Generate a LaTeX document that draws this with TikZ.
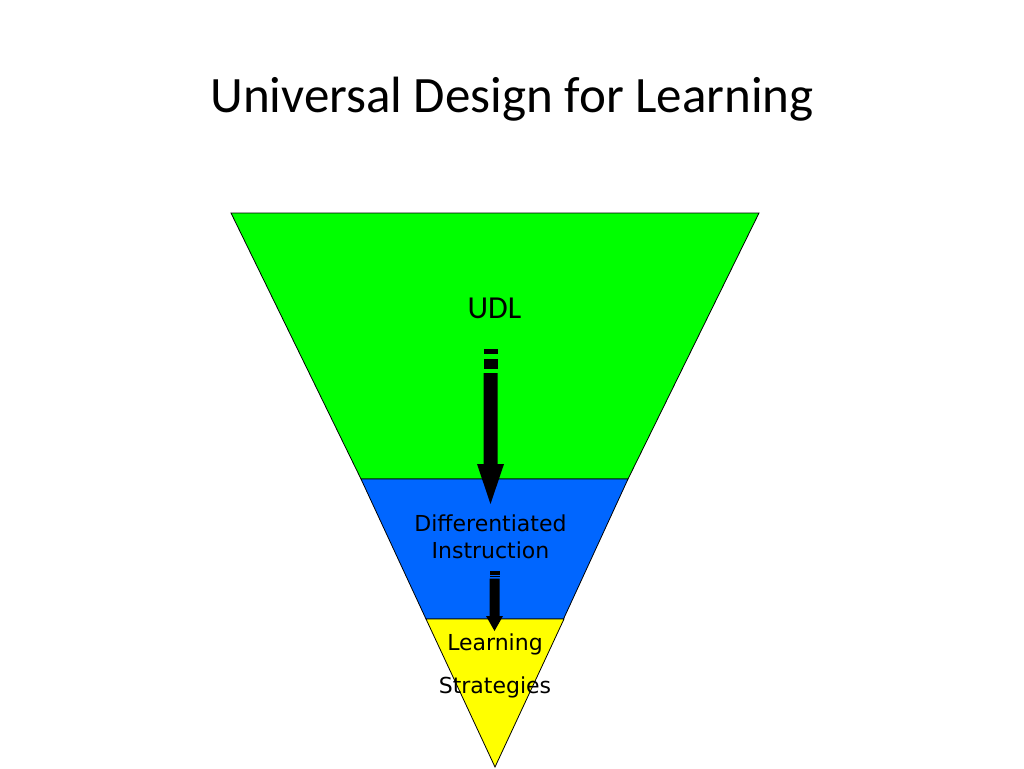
\documentclass[tikz,border=0pt]{standalone}
\usepackage{fontspec}
\setmainfont{Carlito}
\newfontfamily\verd{DejaVu Sans}
\definecolor{udlgreen}{RGB}{0,255,0}
\definecolor{diblue}{RGB}{0,102,255}
\definecolor{lsyellow}{RGB}{255,255,0}
\tikzset{
  band/.style={draw=black, line width=0.8pt, line join=miter},
  blockarrow/.style={fill=black, draw=none},
  lbl/.style={anchor=base, inner sep=0pt, text=black},
}
\begin{document}
\begin{tikzpicture}[x=1pt,y=-1pt]
\useasboundingbox[fill=white] (0,0) rectangle (1024,768);
% title
\node[lbl, font={\fontsize{51}{56}\selectfont}] (title) at (512,112) {Universal Design for Learning};
% funnel bands
\filldraw[band, fill=udlgreen] (231,213) -- (759,213) -- (628,479) -- (361,479) -- cycle;
\filldraw[band, fill=diblue] (361,479) -- (628,479) -- (563.5,619) -- (426,619) -- cycle;
\filldraw[band, fill=lsyellow] (426,619) -- (564,619) -- (495,767) -- cycle;
% labels
\node[lbl, font={\fontsize{32}{36}\selectfont}] (udl) at (494.5,318) {UDL};
\node[lbl, font={\verd\fontsize{22}{26}\selectfont}] (di1) at (490.5,531) {Differentiated};
\node[lbl, font={\verd\fontsize{22}{26}\selectfont}] (di2) at (490.5,558) {Instruction};
\node[lbl, font={\verd\fontsize{22}{26}\selectfont}] (ls1) at (495,650) {Learning};
\node[lbl, font={\verd\fontsize{22}{26}\selectfont}] (ls2) at (495,693) {Strategies};
% striped arrow 1
\fill[blockarrow] (483.5,349) rectangle (497.5,354);
\fill[blockarrow] (483.5,359) rectangle (497.5,369);
\fill[blockarrow] (483.5,373) -- (497.5,373) -- (497.5,464) -- (504,464) -- (490.5,504) -- (477,464) -- (483.5,464) -- cycle;
% striped arrow 2
\fill[blockarrow] (489.5,571) rectangle (499.5,574.5);
\fill[blockarrow] (489.5,575.5) rectangle (499.5,577);
\fill[blockarrow] (489.5,578.5) -- (499.5,578.5) -- (499.5,616) -- (503,616) -- (494.5,631) -- (486,616) -- (489.5,616) -- cycle;
\end{tikzpicture}
\end{document}
